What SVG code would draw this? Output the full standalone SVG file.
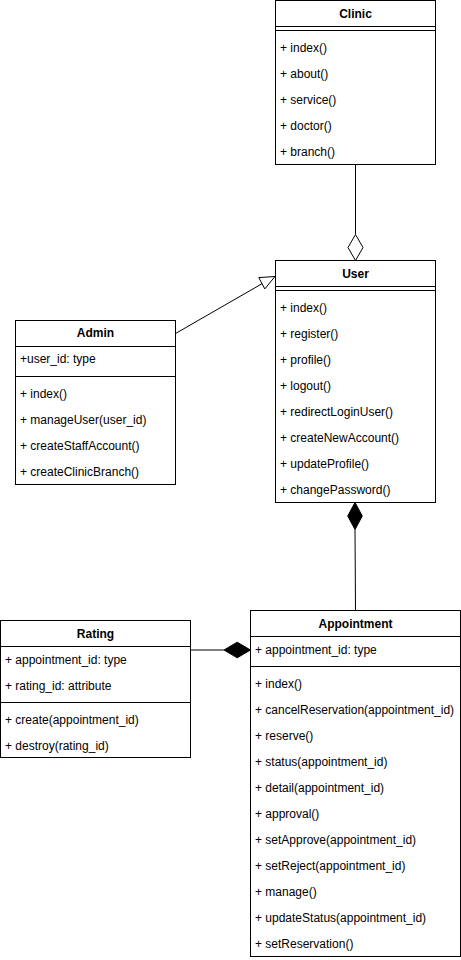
<svg xmlns="http://www.w3.org/2000/svg" width="461" height="960" viewBox="0 0 461 960">
<style>
  .box { fill: #ffffff; stroke: #000000; stroke-width: 1; }
  .ln { stroke: #000000; stroke-width: 1; fill: none; }
  .t { font-family: "Liberation Sans", Arial, sans-serif; font-size: 12px; fill: #000000; }
  .h { font-family: "Liberation Sans", Arial, sans-serif; font-size: 12px; font-weight: bold; fill: #000000; text-anchor: middle; }
</style>
<rect width="461" height="960" fill="#ffffff"/>

<g id="connectors">
  <line class="ln" x1="355.5" y1="164.5" x2="355.5" y2="234.5"/>
  <polygon points="355.5,234.5 363,247.5 355.5,260.5 348,247.5" fill="#ffffff" stroke="#000000" stroke-width="1"/>
  <line class="ln" x1="175.5" y1="333.5" x2="262.9" y2="283.2"/>
  <polygon points="275,276.5 258.8,277.6 264.8,288.9" fill="#ffffff" stroke="#000000" stroke-width="1"/>
  <polygon points="355,502.5 362.3,516 355,529.5 347.7,516" fill="#000000" stroke="#000000" stroke-width="1"/>
  <line class="ln" x1="355" y1="529.5" x2="355.5" y2="610.5"/>
  <line class="ln" x1="190.5" y1="650" x2="224" y2="650"/>
  <polygon points="250.5,650 237.2,642.2 224,650 237.2,657.8" fill="#000000" stroke="#000000" stroke-width="1"/>
</g>

<g id="clinic">
  <rect class="box" x="275.5" y="0.5" width="160" height="164"/>
  <line class="ln" x1="275.5" y1="26.5" x2="435.5" y2="26.5"/>
  <line class="ln" x1="275.5" y1="30.5" x2="435.5" y2="30.5"/>
  <text class="h" x="355.5" y="18">Clinic</text>
  <text class="t" x="280" y="51.5">+ index()</text>
  <text class="t" x="280" y="77.5">+ about()</text>
  <text class="t" x="280" y="103.5">+ service()</text>
  <text class="t" x="280" y="129.5">+ doctor()</text>
  <text class="t" x="280" y="155.5">+ branch()</text>
</g>

<g id="user">
  <rect class="box" x="275.5" y="260.5" width="160" height="242"/>
  <line class="ln" x1="275.5" y1="286.5" x2="435.5" y2="286.5"/>
  <line class="ln" x1="275.5" y1="290.5" x2="435.5" y2="290.5"/>
  <text class="h" x="355.5" y="278">User</text>
  <text class="t" x="280" y="311.5">+ index()</text>
  <text class="t" x="280" y="337.5">+ register()</text>
  <text class="t" x="280" y="363.5">+ profile()</text>
  <text class="t" x="280" y="389.5">+ logout()</text>
  <text class="t" x="280" y="415.5">+ redirectLoginUser()</text>
  <text class="t" x="280" y="441.5">+ createNewAccount()</text>
  <text class="t" x="280" y="467.5">+ updateProfile()</text>
  <text class="t" x="280" y="493.5">+ changePassword()</text>
</g>

<g id="admin">
  <rect class="box" x="15.5" y="320.5" width="160" height="164"/>
  <line class="ln" x1="15.5" y1="346.5" x2="175.5" y2="346.5"/>
  <line class="ln" x1="15.5" y1="376.5" x2="175.5" y2="376.5"/>
  <text class="h" x="95.5" y="337">Admin</text>
  <text class="t" x="20" y="363">+user_id: type</text>
  <text class="t" x="20" y="397.5">+ index()</text>
  <text class="t" x="20" y="423.5">+ manageUser(user_id)</text>
  <text class="t" x="20" y="449.5">+ createStaffAccount()</text>
  <text class="t" x="20" y="475.5">+ createClinicBranch()</text>
</g>

<g id="rating">
  <rect class="box" x="0.5" y="620.5" width="190" height="137"/>
  <line class="ln" x1="0.5" y1="646.5" x2="190.5" y2="646.5"/>
  <line class="ln" x1="0.5" y1="702.5" x2="190.5" y2="702.5"/>
  <text class="h" x="95.5" y="638">Rating</text>
  <text class="t" x="5" y="663.5">+ appointment_id: type</text>
  <text class="t" x="5" y="689.5">+ rating_id: attribute</text>
  <text class="t" x="5" y="723.5">+ create(appointment_id)</text>
  <text class="t" x="5" y="749.5">+ destroy(rating_id)</text>
</g>

<g id="appointment">
  <rect class="box" x="250.5" y="610.5" width="210" height="346"/>
  <line class="ln" x1="250.5" y1="636.5" x2="460.5" y2="636.5"/>
  <line class="ln" x1="250.5" y1="666.5" x2="460.5" y2="666.5"/>
  <text class="h" x="355.5" y="628">Appointment</text>
  <text class="t" x="255" y="653.5">+ appointment_id: type</text>
  <text class="t" x="255" y="687.5">+ index()</text>
  <text class="t" x="255" y="713.5">+ cancelReservation(appointment_id)</text>
  <text class="t" x="255" y="739.5">+ reserve()</text>
  <text class="t" x="255" y="765.5">+ status(appointment_id)</text>
  <text class="t" x="255" y="791.5">+ detail(appointment_id)</text>
  <text class="t" x="255" y="817.5">+ approval()</text>
  <text class="t" x="255" y="843.5">+ setApprove(appointment_id)</text>
  <text class="t" x="255" y="869.5">+ setReject(appointment_id)</text>
  <text class="t" x="255" y="895.5">+ manage()</text>
  <text class="t" x="255" y="921.5">+ updateStatus(appointment_id)</text>
  <text class="t" x="255" y="947.5">+ setReservation()</text>
</g>
</svg>
